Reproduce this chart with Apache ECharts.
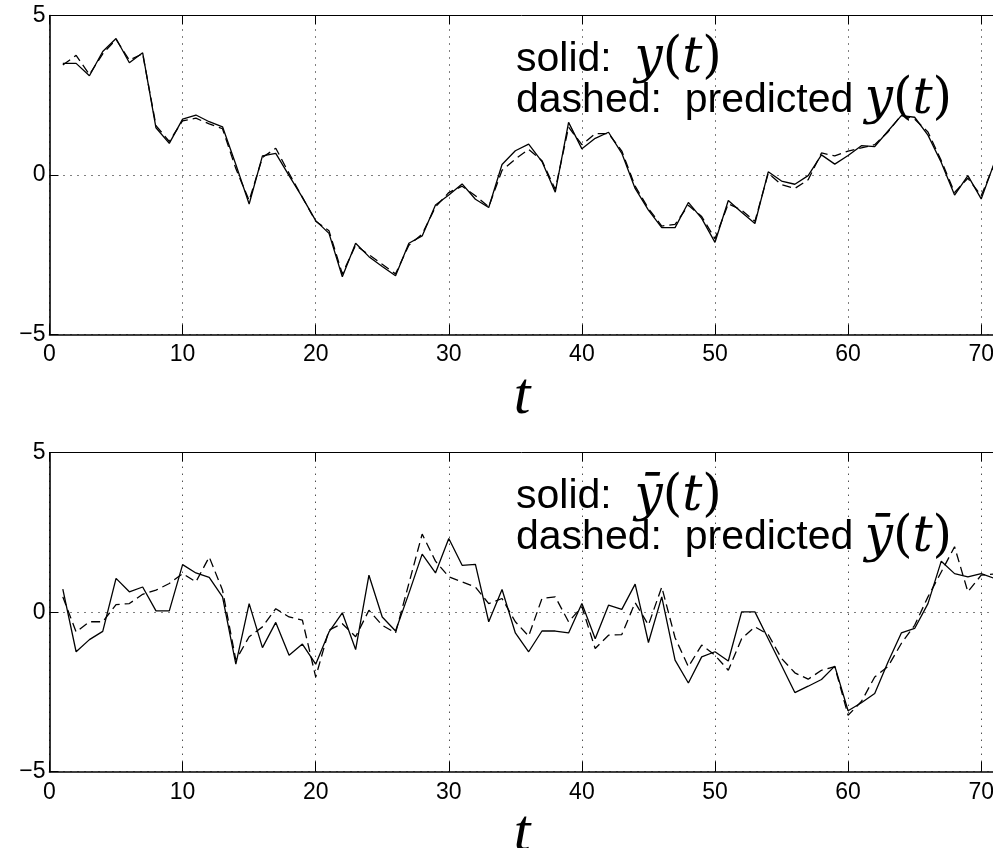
<!DOCTYPE html>
<html>
<head>
<meta charset="utf-8">
<script src="https://cdn.jsdelivr.net/npm/echarts@6/dist/echarts.min.js"></script>
<style>
  html, body { margin: 0; padding: 0; background: #ffffff; }
  #chart { width: 993px; height: 848px; }
</style>
</head>
<body>
<div id="chart"></div>
<script>
// Time steps t = 1 .. 71
const tSteps = [1, 2, 3, 4, 5, 6, 7, 8, 9, 10, 11, 12, 13, 14, 15, 16, 17, 18, 19, 20,
  21, 22, 23, 24, 25, 26, 27, 28, 29, 30, 31, 32, 33, 34, 35, 36, 37, 38, 39, 40,
  41, 42, 43, 44, 45, 46, 47, 48, 49, 50, 51, 52, 53, 54, 55, 56, 57, 58, 59, 60,
  61, 62, 63, 64, 65, 66, 67, 68, 69, 70, 71];

// Upper panel: observed y(t) and its prediction
const yObserved = [3.50, 3.50, 3.11, 3.87, 4.28, 3.52, 3.83, 1.48, 0.99, 1.75,
  1.88, 1.67, 1.51, 0.33, -0.91, 0.60, 0.68, -0.02, -0.70, -1.43,
  -1.83, -3.19, -2.14, -2.56, -2.87, -3.16, -2.14, -1.91, -0.94, -0.63,
  -0.28, -0.76, -1.02, 0.33, 0.76, 0.97, 0.42, -0.54, 1.65, 0.82,
  1.15, 1.34, 0.68, -0.42, -1.10, -1.65, -1.65, -0.86, -1.36, -2.11,
  -0.80, -1.17, -1.52, 0.10, -0.19, -0.29, -0.02, 0.63, 0.34, 0.61,
  0.92, 0.89, 1.38, 1.86, 1.81, 1.25, 0.39, -0.63, -0.02, -0.75, 0.40];
const yPredicted = [3.45, 3.75, 3.15, 3.80, 4.25, 3.60, 3.80, 1.55, 1.05, 1.70,
  1.78, 1.60, 1.45, 0.20, -0.80, 0.55, 0.84, 0.05, -0.70, -1.45,
  -1.75, -3.10, -2.20, -2.50, -2.80, -3.10, -2.20, -1.85, -1.00, -0.55,
  -0.35, -0.65, -1.00, 0.15, 0.50, 0.80, 0.45, -0.45, 1.50, 0.95,
  1.30, 1.30, 0.75, -0.35, -1.05, -1.60, -1.55, -0.95, -1.30, -2.00,
  -0.90, -1.10, -1.45, 0.05, -0.30, -0.42, -0.15, 0.69, 0.60, 0.75,
  0.85, 0.95, 1.35, 1.88, 1.75, 1.35, 0.45, -0.55, -0.10, -0.65, 0.35];

// Lower panel: observed y-bar(t) and its prediction
const yBarObserved = [0.72, -1.24, -0.86, -0.60, 1.06, 0.64, 0.79, 0.04, 0.04, 1.49,
  1.23, 1.09, 0.48, -1.63, 0.27, -1.11, -0.32, -1.35, -1.00, -1.63,
  -0.62, -0.02, -1.17, 1.16, -0.15, -0.59, 0.59, 1.82, 1.23, 2.31,
  1.47, 1.50, -0.30, 0.71, -0.65, -1.24, -0.59, -0.59, -0.65, 0.27,
  -0.83, 0.22, 0.09, 0.88, -0.95, 0.48, -1.50, -2.22, -1.40, -1.24,
  -1.53, 0.01, 0.01, -0.83, -1.67, -2.52, -2.32, -2.11, -1.69, -3.09,
  -2.84, -2.55, -1.56, -0.65, -0.51, 0.27, 1.60, 1.21, 1.11, 1.21, 1.06];
const yBarPredicted = [0.48, -0.62, -0.30, -0.30, 0.24, 0.27, 0.56, 0.69, 0.90, 1.21,
  0.95, 1.73, 0.69, -1.50, -0.77, -0.46, 0.11, -0.15, -0.25, -2.03,
  -0.56, -0.36, -0.77, 0.06, -0.41, -0.65, 0.90, 2.45, 1.60, 1.11,
  0.95, 0.79, 0.27, 0.43, -0.30, -0.75, 0.43, 0.48, -0.30, 0.17,
  -1.14, -0.72, -0.70, 0.30, -0.40, 0.79, -0.80, -1.71, -1.03, -1.35,
  -1.82, -0.83, -0.46, -0.70, -1.45, -1.90, -2.10, -1.82, -1.71, -3.23,
  -2.80, -2.03, -1.70, -0.98, -0.41, 0.48, 1.26, 2.05, 0.64, 1.16, 1.20];

// Axis ticks and their labels
const xTicks = [0, 10, 20, 30, 40, 50, 60, 70];
const xTickLabels = ['0', '10', '20', '30', '40', '50', '60', '70'];
const yTicks = [-5, 0, 5];
const yTickLabels = ['\u22125', '0', '5'];

const X_MIN = 0, X_MAX = 71, Y_MIN = -5, Y_MAX = 5;

const SANS = 'Liberation Sans';
const SERIF = 'DejaVu Serif';
const AXIS_SERIF = 'Liberation Serif';

function pairs(values) {
  return tSteps.map((t, i) => [t, values[i]]);
}

const dottedGrid = { show: true, lineStyle: { color: '#000', width: 1, type: [1, 6] } };

function bottomAxis(gridIndex) {
  return {
    type: 'value', gridIndex, position: 'bottom',
    min: X_MIN, max: X_MAX, interval: 10,
    axisLine: { show: true, onZero: false, lineStyle: { color: '#000', width: 1.6 } },
    axisTick: { show: true, inside: true, length: 10, lineStyle: { color: '#000', width: 1 } },
    axisLabel: {
      show: true, margin: 9, color: '#000', fontFamily: SANS, fontSize: 23,
      showMaxLabel: false,
      formatter: v => { const k = xTicks.indexOf(v); return k >= 0 ? xTickLabels[k] : ''; }
    },
    splitLine: dottedGrid,
    name: 't', nameLocation: 'middle', nameGap: 30,
    nameTextStyle: { fontFamily: AXIS_SERIF, fontStyle: 'italic', fontSize: 60, color: '#000' }
  };
}

function topAxis(gridIndex) {
  return {
    type: 'value', gridIndex, position: 'top',
    min: X_MIN, max: X_MAX, interval: 10,
    axisLine: { show: true, onZero: false, lineStyle: { color: '#000', width: 1 } },
    axisTick: { show: true, inside: true, length: 9, lineStyle: { color: '#000', width: 1 } },
    axisLabel: { show: false },
    splitLine: { show: false }
  };
}

function leftAxis(gridIndex) {
  return {
    type: 'value', gridIndex, position: 'left',
    min: Y_MIN, max: Y_MAX, interval: 5,
    axisLine: { show: true, onZero: false, lineStyle: { color: '#000', width: 1.6 } },
    axisTick: { show: true, inside: true, length: 9, lineStyle: { color: '#000', width: 1 } },
    axisLabel: {
      show: true, margin: 4, color: '#000', fontFamily: SANS, fontSize: 23,
      formatter: v => { const k = yTicks.indexOf(v); return k >= 0 ? yTickLabels[k] : ''; }
    },
    splitLine: dottedGrid
  };
}

function lineSeries(values, gridIdx, dashed) {
  return {
    type: 'line', xAxisIndex: gridIdx * 2, yAxisIndex: gridIdx,
    data: pairs(values), showSymbol: false, smooth: false,
    lineStyle: { color: '#000', width: 1.3, type: dashed ? [9, 5] : 'solid' },
    z: dashed ? 2 : 3, silent: true
  };
}

const richStyles = {
  s: { fontFamily: SANS, fontSize: 41, lineHeight: 41, color: '#000' },
  m: { fontFamily: SERIF, fontStyle: 'italic', fontSize: 50, lineHeight: 41, color: '#000' },
  p: { fontFamily: SERIF, fontSize: 50, lineHeight: 41, color: '#000' }
};

function legendText(sym) {
  return '{s|solid:  }{m|' + sym + '}{p|(}{m|t}{p|)}\n' +
         '{s|dashed:  predicted }{m|' + sym + '}{p|(}{m|t}{p|)}';
}

const panelTops = [15.5, 452.7];
const panelHeight = 319;

const option = {
  animation: false,
  backgroundColor: '#ffffff',
  grid: panelTops.map(top => ({
    left: 49.5, top, width: 945, height: panelHeight,
    containLabel: false, outerBoundsMode: 'none'
  })),
  xAxis: [bottomAxis(0), topAxis(0), bottomAxis(1), topAxis(1)],
  yAxis: [leftAxis(0), leftAxis(1)],
  series: [
    lineSeries(yPredicted, 0, true),
    lineSeries(yObserved, 0, false),
    lineSeries(yBarPredicted, 1, true),
    lineSeries(yBarObserved, 1, false)
  ],
  graphic: [
    { type: 'text', left: 516, top: panelTops[0] + 19, z: 10,
      style: { text: legendText('y'), rich: richStyles } },
    { type: 'text', left: 516, top: panelTops[1] + 19, z: 10,
      style: { text: legendText('\u0233'), rich: richStyles } }
  ]
};

const chart = echarts.init(document.getElementById('chart'), null, { renderer: 'canvas' });
chart.setOption(option);
</script>
</body>
</html>
